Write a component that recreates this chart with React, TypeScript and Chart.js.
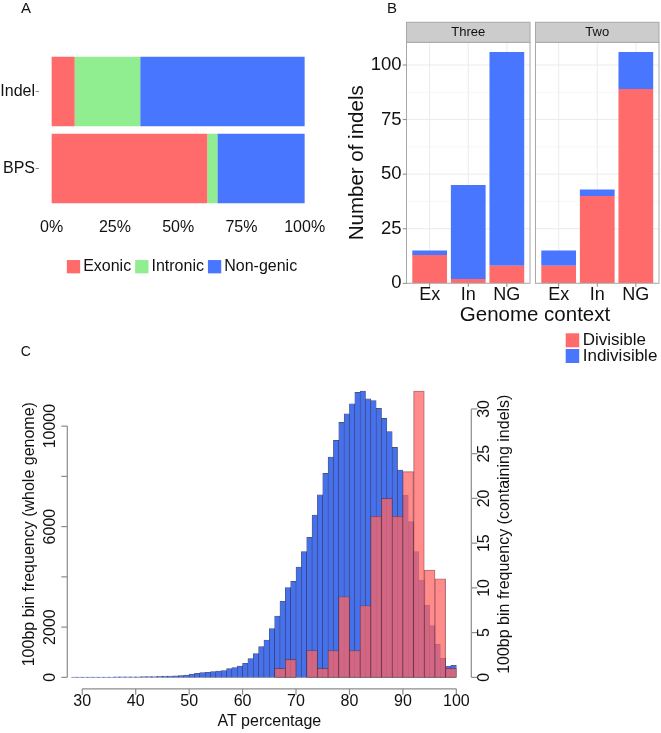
import React, { useEffect, useRef } from 'react';
import { Chart, registerables } from 'chart.js';

Chart.register(...registerables);

const W = 661;
const H = 733;
const FONT = '"Liberation Sans", Arial, Helvetica, sans-serif';
const TEXT = '#111111';
Chart.defaults.font.family = FONT;

// ---------------- Panel A ----------------
const aCategories = ['Indel', 'BPS'];
const aSeriesNames = ['Exonic', 'Intronic', 'Non-genic'];
const aExonic = [9.1, 61.5];
const aIntronic = [25.9, 4.0];
const aNonGenic = [65.0, 34.5];
const aPercentTicks = [0, 25, 50, 75, 100];
const aColors = ['#FF6A6A', '#90EE90', '#4876FF'];

// ---------------- Panel B ----------------
const bFacets = ['Three', 'Two'];
const bContexts = ['Ex', 'In', 'NG'];
const bSeriesNames = ['Divisible', 'Indivisible'];
const bThreeDivisible = [13, 2, 8];
const bThreeIndivisible = [2, 43, 98];
const bTwoDivisible = [8, 40, 89];
const bTwoIndivisible = [7, 3, 17];
const bYTicks = [0, 25, 50, 75, 100];
const bYMinor = [12.5, 37.5, 62.5, 87.5];
const bColors = ['#FF6A6A', '#4876FF'];

// ---------------- Panel C ----------------
const cGenomeBinStarts = [
  28, 29, 30, 31, 32, 33, 34, 35, 36, 37, 38, 39, 40, 41, 42, 43, 44, 45, 46, 47,
  48, 49, 50, 51, 52, 53, 54, 55, 56, 57, 58, 59, 60, 61, 62, 63, 64, 65, 66, 67,
  68, 69, 70, 71, 72, 73, 74, 75, 76, 77, 78, 79, 80, 81, 82, 83, 84, 85, 86, 87,
  88, 89, 90, 91, 92, 93, 94, 95, 96, 97, 98, 99,
];
const cGenomeFreq = [
  8, 8, 9, 10, 11, 12, 13, 14, 16, 18, 20, 23, 25, 28, 31, 35, 40, 46, 53, 62,
  75, 93, 133, 159, 186, 199, 226, 252, 265, 345, 385, 451, 557, 743, 942, 1220, 1486, 1937, 2441, 3025,
  3569, 3821, 4391, 5002, 5572, 6461, 7270, 8119, 8769, 9432, 10149, 10494, 10892, 11343, 11396, 11090, 11012, 10706, 10308, 9778,
  9154, 8252, 7257, 6196, 5002, 3874, 2879, 2056, 1313, 756, 451, 478,
];
const cIndelBinStarts = [66, 68, 70, 72, 74, 76, 78, 80, 82, 84, 86, 88, 90, 92, 94, 96, 98];
const cIndelFreq = [1, 2, 0, 3, 1, 3, 9, 3, 8, 18, 20, 18, 23, 32, 12, 11, 1];
const cXTicks = [30, 40, 50, 60, 70, 80, 90, 100];
const cLeftTicks = [0, 2000, 4000, 6000, 8000, 10000];
const cLeftLabels = ['0', '2000', '', '6000', '', '10000'];
const cRightTicks = [0, 5, 10, 15, 20, 25, 30];
const cBlue = '#4570EE';
const cPink = 'rgba(255,100,100,0.75)';

// ---------------- helpers ----------------
type Ctx = CanvasRenderingContext2D;

function txt(
  ctx: Ctx,
  s: string,
  x: number,
  y: number,
  size: number,
  opts: { align?: CanvasTextAlign; rotate?: number; color?: string; family?: string } = {}
) {
  ctx.save();
  ctx.font = `${size}px ${opts.family ?? FONT}`;
  ctx.fillStyle = opts.color ?? TEXT;
  ctx.textAlign = opts.align ?? 'center';
  ctx.textBaseline = 'middle';
  ctx.translate(x, y);
  if (opts.rotate) ctx.rotate(opts.rotate);
  ctx.fillText(s, 0, 0);
  ctx.restore();
}

function seg(ctx: Ctx, x1: number, y1: number, x2: number, y2: number, color: string, width = 1) {
  ctx.save();
  ctx.strokeStyle = color;
  ctx.lineWidth = width;
  ctx.beginPath();
  ctx.moveTo(x1, y1);
  ctx.lineTo(x2, y2);
  ctx.stroke();
  ctx.restore();
}

const setTicks = (vals: number[]) => (scale: any) => {
  scale.ticks = vals.map((v) => ({ value: v }));
};

// ---------------- Panel A chart ----------------
const panelAPlugin = {
  id: 'panelA',
  afterDatasetsDraw(chart: any) {
    const ctx: Ctx = chart.ctx;
    const ca = chart.chartArea;
    const xs = chart.scales.x;
    const ys = chart.scales.y;
    aCategories.forEach((name, i) => {
      const y = ys.getPixelForValue(i + 1);
      seg(ctx, ca.left - 3.5, y, ca.left, y, '#8a8a8a', 1);
      txt(ctx, name, ca.left - 4, y, 16, { align: 'right' });
    });
    aPercentTicks.forEach((t) => {
      txt(ctx, `${t}%`, xs.getPixelForValue(t), ca.bottom + 12.5, 16);
    });
    txt(ctx, 'A', 26, 9, 15);
    // legend
    ctx.save();
    ctx.font = `16px ${FONT}`;
    const key = 13.3;
    const g1 = 3;
    const g2 = 4;
    const widths = aSeriesNames.map((n) => ctx.measureText(n).width);
    const total = widths.reduce((s, w) => s + key + g1 + w, 0) + g2 * (aSeriesNames.length - 1);
    let x = 182 - total / 2;
    const yc = 266.7;
    aSeriesNames.forEach((n, i) => {
      ctx.fillStyle = aColors[i];
      ctx.fillRect(x, yc - key / 2, key, key);
      txt(ctx, n, x + key + g1, yc, 16, { align: 'left' });
      x += key + g1 + widths[i] + g2;
    });
    ctx.restore();
  },
};

function makeA(canvas: HTMLCanvasElement) {
  const values = [aExonic, aIntronic, aNonGenic];
  return new Chart(canvas, {
    type: 'bar',
    data: {
      datasets: aSeriesNames.map((name, si) => ({
        label: name,
        data: values[si].map((v, i) => ({ x: v, y: i + 1 })),
        backgroundColor: aColors[si],
        borderWidth: 0,
        barPercentage: 0.9,
        categoryPercentage: 1,
      })),
    } as any,
    options: {
      indexAxis: 'y',
      responsive: false,
      animation: false,
      events: [],
      layout: { padding: { left: 39, right: W - 317.3, top: 45.3, bottom: H - 214.7 } },
      scales: {
        x: { type: 'linear', min: -5, max: 105, stacked: true, display: false, offset: false },
        y: {
          type: 'linear',
          min: 0.4,
          max: 2.6,
          reverse: true,
          stacked: true,
          display: false,
          offset: false,
          afterBuildTicks: setTicks([1, 2]),
        },
      },
      plugins: { legend: { display: false }, tooltip: { enabled: false } },
    } as any,
    plugins: [panelAPlugin],
  });
}

// ---------------- Panel B charts ----------------
function makeBPlugin(facet: number) {
  return {
    id: 'panelB' + facet,
    beforeDatasetsDraw(chart: any) {
      const ctx: Ctx = chart.ctx;
      const ca = chart.chartArea;
      const xs = chart.scales.x;
      const ys = chart.scales.y;
      ctx.save();
      ctx.beginPath();
      ctx.rect(ca.left, ca.top, ca.right - ca.left, ca.bottom - ca.top);
      ctx.clip();
      bYMinor.forEach((v) => {
        const y = ys.getPixelForValue(v);
        seg(ctx, ca.left, y, ca.right, y, '#f3f3f3', 0.7);
      });
      bYTicks.forEach((v) => {
        const y = ys.getPixelForValue(v);
        seg(ctx, ca.left, y, ca.right, y, '#ebebeb', 1);
      });
      bContexts.forEach((_, i) => {
        const x = xs.getPixelForValue(i + 1);
        seg(ctx, x, ca.top, x, ca.bottom, '#ebebeb', 1);
      });
      ctx.restore();
    },
    afterDatasetsDraw(chart: any) {
      const ctx: Ctx = chart.ctx;
      const ca = chart.chartArea;
      const xs = chart.scales.x;
      const ys = chart.scales.y;
      const w = ca.right - ca.left;
      const h = ca.bottom - ca.top;
      ctx.save();
      ctx.strokeStyle = '#a8a8a8';
      ctx.lineWidth = 1;
      ctx.strokeRect(ca.left, ca.top, w, h);
      // strip
      const sh = 20;
      ctx.fillStyle = '#cccccc';
      ctx.fillRect(ca.left, ca.top - sh, w, sh);
      ctx.strokeRect(ca.left, ca.top - sh, w, sh);
      ctx.restore();
      txt(ctx, bFacets[facet], ca.left + w / 2, ca.top - sh / 2, 13);
      // x axis
      bContexts.forEach((c, i) => {
        const x = xs.getPixelForValue(i + 1);
        seg(ctx, x, ca.bottom, x, ca.bottom + 3.5, '#8a8a8a', 1);
        txt(ctx, c, x, ca.bottom + 12, 18);
      });
      if (facet === 0) {
        bYTicks.forEach((v) => {
          const y = ys.getPixelForValue(v);
          seg(ctx, ca.left - 3.7, y, ca.left, y, '#8a8a8a', 1);
          txt(ctx, String(v), ca.left - 5, y, 18.5, { align: 'right' });
        });
        txt(ctx, 'Number of indels', 357.5, (ca.top + ca.bottom) / 2, 20.5, { rotate: -Math.PI / 2 });
        txt(ctx, 'B', 392, 9, 15);
      } else {
        txt(ctx, 'Genome context', 535, 315, 20.5);
        const kx = 565.7;
        const kw = 13.5;
        const kh = 14;
        const tops = [333.3, 349];
        bSeriesNames.forEach((n, i) => {
          ctx.fillStyle = bColors[i];
          ctx.fillRect(kx, tops[i], kw, kh);
          txt(ctx, n, kx + kw + 3.5, tops[i] + kh / 2, 17, { align: 'left' });
        });
      }
    },
  };
}

function makeB(facet: number) {
  return (canvas: HTMLCanvasElement) => {
    const div = facet === 0 ? bThreeDivisible : bTwoDivisible;
    const ind = facet === 0 ? bThreeIndivisible : bTwoIndivisible;
    const series = [div, ind];
    const left = facet === 0 ? 406.5 : 535.5;
    const right = facet === 0 ? 530 : 659;
    return new Chart(canvas, {
      type: 'bar',
      data: {
        datasets: bSeriesNames.map((name, si) => ({
          label: name,
          data: series[si].map((v, i) => ({ x: i + 1, y: v })),
          backgroundColor: bColors[si],
          borderWidth: 0,
          barPercentage: 0.9,
          categoryPercentage: 1,
        })),
      } as any,
      options: {
        responsive: false,
        animation: false,
        events: [],
        layout: { padding: { left, right: W - right, top: 42.3, bottom: H - 283.3 } },
        scales: {
          x: {
            type: 'linear',
            min: 0.4,
            max: 3.6,
            stacked: true,
            display: false,
            offset: false,
            afterBuildTicks: setTicks([1, 2, 3]),
          },
          y: {
            type: 'linear',
            min: 0,
            max: 110.4,
            stacked: true,
            display: false,
            offset: false,
            afterBuildTicks: setTicks(bYTicks),
          },
        },
        plugins: { legend: { display: false }, tooltip: { enabled: false } },
      } as any,
      plugins: [makeBPlugin(facet)],
    });
  };
}

// ---------------- Panel C chart ----------------
const panelCPlugin = {
  id: 'panelC',
  afterDatasetsDraw(chart: any) {
    const ctx: Ctx = chart.ctx;
    const ca = chart.chartArea;
    const xs = chart.scales.x;
    const yl = chart.scales.y;
    const yr = chart.scales.y2;
    const ac = '#8c8c8c';
    // bottom axis
    const xa = ca.bottom;
    seg(ctx, xs.getPixelForValue(cXTicks[0]), xa, xs.getPixelForValue(cXTicks[cXTicks.length - 1]), xa, ac, 1.2);
    cXTicks.forEach((t) => {
      const x = xs.getPixelForValue(t);
      seg(ctx, x, xa, x, xa + 6, ac, 1.2);
      txt(ctx, String(t), x, xa + 13, 16);
    });
    txt(ctx, 'AT percentage', (ca.left + ca.right) / 2, xa + 33, 16);
    // left axis
    const la = ca.left;
    seg(ctx, la, yl.getPixelForValue(cLeftTicks[0]), la, yl.getPixelForValue(cLeftTicks[cLeftTicks.length - 1]), ac, 1.2);
    cLeftTicks.forEach((t, i) => {
      const y = yl.getPixelForValue(t);
      seg(ctx, la - 6, y, la, y, ac, 1.2);
      if (cLeftLabels[i]) txt(ctx, cLeftLabels[i], la - 17, y, 16, { rotate: -Math.PI / 2 });
    });
    txt(ctx, '100bp bin frequency (whole genome)', la - 37.5, (ca.top + ca.bottom) / 2, 16, { rotate: -Math.PI / 2 });
    // right axis
    const ra = ca.right;
    seg(ctx, ra, yr.getPixelForValue(cRightTicks[0]), ra, yr.getPixelForValue(cRightTicks[cRightTicks.length - 1]), ac, 1.2);
    cRightTicks.forEach((t) => {
      const y = yr.getPixelForValue(t);
      seg(ctx, ra, y, ra + 6, y, ac, 1.2);
      txt(ctx, String(t), ra + 13, y, 16, { rotate: -Math.PI / 2 });
    });
    txt(ctx, '100bp bin frequency (containing indels)', ra + 33.5, (ca.top + ca.bottom) / 2, 16, { rotate: -Math.PI / 2 });
    txt(ctx, 'C', 25.7, 352, 14);
  },
};

function makeC(canvas: HTMLCanvasElement) {
  const maxL = Math.max(...cGenomeFreq);
  const maxR = Math.max(...cIndelFreq);
  return new Chart(canvas, {
    type: 'bar',
    data: {
      datasets: [
        {
          label: 'whole genome',
          data: cGenomeBinStarts.map((b, i) => ({ x: b + 0.5, y: cGenomeFreq[i] })),
          xAxisID: 'x',
          yAxisID: 'y',
          backgroundColor: cBlue,
          borderColor: 'rgba(30,30,55,0.8)',
          borderWidth: 0.6,
          borderSkipped: false,
          barPercentage: 1,
          categoryPercentage: 1,
          grouped: false,
          order: 2,
        },
        {
          label: 'containing indels',
          data: cIndelBinStarts.map((b, i) => ({ x: b + 1, y: cIndelFreq[i] })),
          xAxisID: 'x2',
          yAxisID: 'y2',
          backgroundColor: cPink,
          borderColor: 'rgba(70,35,45,0.6)',
          borderWidth: 0.6,
          borderSkipped: false,
          barPercentage: 1,
          categoryPercentage: 1,
          grouped: false,
          order: 1,
        },
      ],
    } as any,
    options: {
      responsive: false,
      animation: false,
      events: [],
      layout: { padding: { left: 67.3, right: W - 471.3, top: 379.6, bottom: H - 688.8 } },
      scales: {
        x: {
          type: 'linear',
          min: 27.2,
          max: 102.8,
          display: false,
          offset: false,
          afterBuildTicks: setTicks(cXTicks),
        },
        x2: {
          type: 'linear',
          axis: 'x',
          min: 27.2,
          max: 102.8,
          display: false,
          offset: false,
          afterBuildTicks: setTicks(cXTicks),
        },
        y: {
          type: 'linear',
          min: -0.04 * maxL,
          max: 1.04 * maxL,
          display: false,
          offset: false,
          afterBuildTicks: setTicks(cLeftTicks),
        },
        y2: {
          type: 'linear',
          axis: 'y',
          position: 'right',
          min: -0.04 * maxR,
          max: 1.04 * maxR,
          display: false,
          offset: false,
          afterBuildTicks: setTicks(cRightTicks),
        },
      },
      plugins: { legend: { display: false }, tooltip: { enabled: false } },
    } as any,
    plugins: [panelCPlugin],
  });
}

// ---------------- components ----------------
function ChartCanvas({ make }: { make: (c: HTMLCanvasElement) => Chart }) {
  const ref = useRef<HTMLCanvasElement>(null);
  useEffect(() => {
    const chart = make(ref.current as HTMLCanvasElement);
    return () => chart.destroy();
  }, [make]);
  return (
    <canvas
      ref={ref}
      width={W}
      height={H}
      style={{ position: 'absolute', left: 0, top: 0, width: W, height: H }}
    />
  );
}

const makeB0 = makeB(0);
const makeB1 = makeB(1);

export default function App() {
  return (
    <div
      style={{
        position: 'absolute',
        left: 0,
        top: 0,
        width: W,
        height: H,
        overflow: 'hidden',
        background: '#ffffff',
      }}
    >
      <ChartCanvas make={makeA} />
      <ChartCanvas make={makeB0} />
      <ChartCanvas make={makeB1} />
      <ChartCanvas make={makeC} />
    </div>
  );
}
